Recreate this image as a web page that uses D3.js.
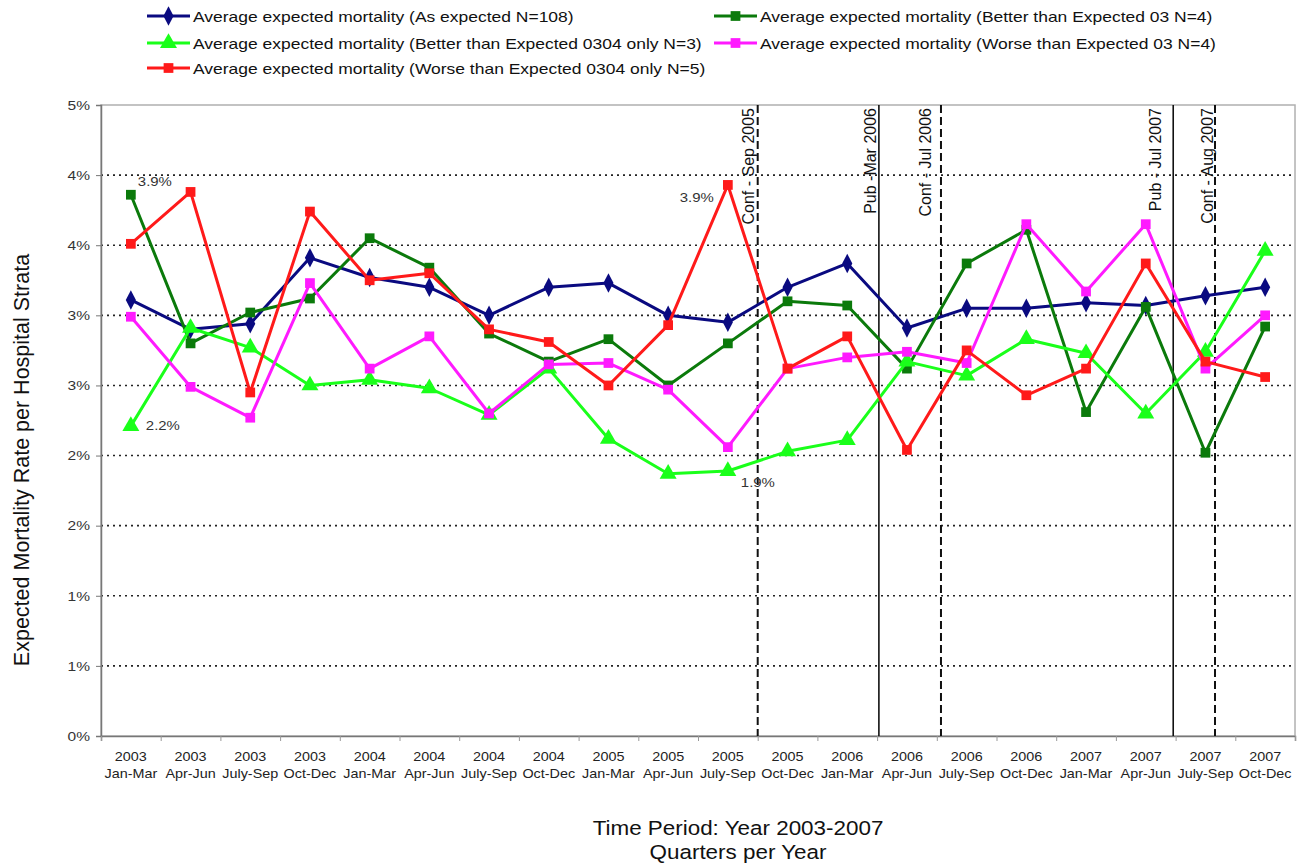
<!DOCTYPE html>
<html>
<head>
<meta charset="utf-8">
<script src="https://cdn.jsdelivr.net/npm/d3@7"></script>
<style>
  html, body { margin: 0; padding: 0; background: #fff; }
  svg { display: block; font-family: "Liberation Sans", Arial, sans-serif; }
</style>
</head>
<body>
<svg id="chart" width="1304" height="865"></svg>
<script>
// ---------- DATA ----------
const years = ["2003","2003","2003","2003","2004","2004","2004","2004","2005","2005","2005","2005","2006","2006","2006","2006","2007","2007","2007","2007"];
const quarters = ["Jan-Mar","Apr-Jun","July-Sep","Oct-Dec","Jan-Mar","Apr-Jun","July-Sep","Oct-Dec","Jan-Mar","Apr-Jun","July-Sep","Oct-Dec","Jan-Mar","Apr-Jun","July-Sep","Oct-Dec","Jan-Mar","Apr-Jun","July-Sep","Oct-Dec"];

const asExpected      = [3.11,2.90,2.94,3.41,3.27,3.20,3.00,3.20,3.23,3.00,2.95,3.20,3.37,2.91,3.05,3.05,3.09,3.07,3.14,3.20];
const betterExp03     = [3.86,2.80,3.02,3.12,3.55,3.34,2.87,2.67,2.83,2.50,2.80,3.10,3.07,2.62,3.37,3.61,2.31,3.06,2.02,2.92];
const betterExp0304   = [2.21,2.91,2.77,2.50,2.54,2.48,2.29,2.62,2.12,1.87,1.89,2.03,2.11,2.67,2.57,2.83,2.73,2.30,2.74,3.46];
const worseExp03      = [2.99,2.49,2.27,3.23,2.62,2.85,2.30,2.65,2.66,2.47,2.06,2.62,2.70,2.74,2.66,3.65,3.17,3.65,2.62,3.00];
const worseExp0304    = [3.51,3.88,2.45,3.74,3.25,3.30,2.90,2.81,2.50,2.93,3.93,2.62,2.85,2.04,2.75,2.43,2.62,3.37,2.67,2.56];

const seriesNames = [
  "Average expected mortality (As expected N=108)",
  "Average expected mortality (Better than Expected 03 N=4)",
  "Average expected mortality (Better than Expected 0304 only N=3)",
  "Average expected mortality (Worse than Expected 03 N=4)",
  "Average expected mortality (Worse than Expected 0304 only N=5)"
];

const yTicks = [0,0.5,1,1.5,2,2.5,3,3.5,4,4.5];

// event markers: position in quarter units from start of 2003 Jan-Mar
const eventLabels = ["Conf - Sep 2005","Pub -Mar 2006","Conf - Jul 2006","Pub - Jul 2007","Conf - Aug 2007"];
const eventPos    = [11.0, 13.03, 14.07, 17.96, 18.66];
const eventType   = ["conf","pub","conf","pub","conf"];

// data labels: [series index, point index, text]
const annotations = [[1,0,"3.9%"],[2,0,"2.2%"],[4,10,"3.9%"],[2,10,"1.9%"]];

// ---------- STYLE ----------
const SX = 1.15; // horizontal stretch of horizontal text (reference is slightly widened)
const colors  = ["#0a0a80","#0b7a0b","#1aff1a","#ff1aff","#ff1a1a"];
const shapes  = [d3.symbolDiamond, d3.symbolSquare, d3.symbolTriangle, d3.symbolSquare, d3.symbolSquare];
const sizes   = [110, 95, 125, 95, 95];
const annOffsets = [[7,-9,"start"],[15,4,"start"],[-14,17,"end"],[13,16,"start"]];
const eventLabelDx = [-4,-3,-10,-12,-2];

const allSeries = [asExpected, betterExp03, betterExp0304, worseExp03, worseExp0304];

const svg = d3.select("#chart");
const m = {left:101, top:105, right:1295, bottom:736};
const W = m.right - m.left, H = m.bottom - m.top;

const x = d3.scaleBand().domain(d3.range(years.length)).range([m.left, m.right]).padding(0);
const xc = i => x(i) + x.bandwidth()/2;
const xq = d3.scaleLinear().domain([0, years.length]).range([m.left, m.right]);
const y = d3.scaleLinear().domain([0,4.5]).range([m.bottom, m.top]);

function htext(parent, tx, ty, str, size, anchor, fill) {
  return parent.append("text")
    .attr("transform", `translate(${tx},${ty}) scale(${SX},1)`)
    .attr("text-anchor", anchor || "start")
    .attr("font-size", size).attr("fill", fill || "#111").text(str);
}

// plot border
svg.append("rect").attr("x", m.left).attr("y", m.top).attr("width", W).attr("height", H)
  .attr("fill","none").attr("stroke","#b0b0b0").attr("stroke-width",1.5);

// gridlines
svg.append("g").selectAll("line").data(yTicks.filter(t => t>0 && t<4.5)).join("line")
  .attr("x1", m.left).attr("x2", m.right)
  .attr("y1", d => y(d)).attr("y2", d => y(d))
  .attr("stroke","#222").attr("stroke-width",1.6).attr("stroke-dasharray","2,4");

// y axis (Excel-style rounding: 0.5 -> 1%)
const yFmt = d => Math.floor(d + 0.5) + "%";
const yAxis = d3.axisLeft(y).tickValues(yTicks).tickFormat(yFmt).tickSize(5).tickPadding(0);
const gy = svg.append("g").attr("transform",`translate(${m.left},0)`).call(yAxis);
gy.select(".domain").attr("stroke","#777").attr("stroke-width",1.5);
gy.selectAll(".tick line").attr("stroke","#777");
gy.selectAll(".tick text")
  .attr("x", null)
  .attr("transform", `translate(-11,0) scale(${SX},1)`)
  .attr("font-size",13.5).attr("fill","#333").attr("font-family","Liberation Sans, Arial, sans-serif");

// x axis
const xAxis = d3.axisBottom(xq).tickValues(d3.range(0, years.length+1)).tickFormat("").tickSize(5);
const gx = svg.append("g").attr("transform",`translate(0,${m.bottom})`).call(xAxis);
gx.select(".domain").attr("stroke","#777").attr("stroke-width",1.5);
gx.selectAll(".tick line").attr("stroke","#999");

const xl = svg.append("g");
years.forEach((yr,i) => htext(xl, xc(i), 761, yr, 12.5, "middle", "#222"));
quarters.forEach((q,i) => htext(xl, xc(i), 778, q, 12.5, "middle", "#222"));

// axis titles
htext(svg, 738, 835, "Time Period: Year 2003-2007", 19.5, "middle", "#111");
htext(svg, 738, 859, "Quarters per Year", 19.5, "middle", "#111");
svg.append("text").attr("transform","translate(29,460) rotate(-90)").attr("text-anchor","middle")
  .attr("font-size",21.5).attr("fill","#111").text("Expected Mortality Rate per Hospital Strata");

// event lines
const ev = svg.append("g");
eventPos.forEach((p,i) => {
  const xx = xq(p);
  ev.append("line").attr("x1",xx).attr("x2",xx).attr("y1",m.top).attr("y2",m.bottom)
    .attr("stroke","#111").attr("stroke-width", eventType[i]==="pub"?1.6:2)
    .attr("stroke-dasharray", eventType[i]==="pub"?null:"8,4");
  ev.append("text").attr("transform",`translate(${xx+eventLabelDx[i]},${m.top+3}) rotate(-90)`)
    .attr("text-anchor","end").attr("font-size",16).attr("fill","#111").text(eventLabels[i]);
});

// series
const line = d3.line().x((d,i)=>xc(i)).y(d=>y(d));
allSeries.forEach((s,k) => {
  const g = svg.append("g");
  g.append("path").datum(s).attr("d",line).attr("fill","none")
    .attr("stroke",colors[k]).attr("stroke-width",3).attr("stroke-linejoin","round");
  g.selectAll("path.mk").data(s).join("path").attr("class","mk")
    .attr("transform",(d,i)=>`translate(${xc(i)},${y(d)})${k===0?" scale(0.9,1)":""}`)
    .attr("d", d3.symbol().type(shapes[k]).size(sizes[k]))
    .attr("fill",colors[k]);
});

// data labels
annotations.forEach((a,i) => {
  const [si, pi, t] = a;
  htext(svg, xc(pi)+annOffsets[i][0], y(allSeries[si][pi])+annOffsets[i][1], t, 13, annOffsets[i][2], "#333");
});

// legend
const legendPos = [[147,16],[714,16],[147,43],[714,43],[147,68]];
seriesNames.forEach((n,k) => {
  const [lx,ly] = legendPos[k];
  const lw = 43;
  const g = svg.append("g");
  g.append("line").attr("x1",lx).attr("x2",lx+lw).attr("y1",ly).attr("y2",ly)
    .attr("stroke",colors[k]).attr("stroke-width",3);
  g.append("path").attr("transform",`translate(${lx+lw/2},${ly})${k===0?" scale(0.9,1)":""}`)
    .attr("d", d3.symbol().type(shapes[k]).size(sizes[k])).attr("fill",colors[k]);
  htext(g, lx+lw+3, ly+5.5, n, 15.2, "start", "#111");
});
</script>
</body>
</html>
